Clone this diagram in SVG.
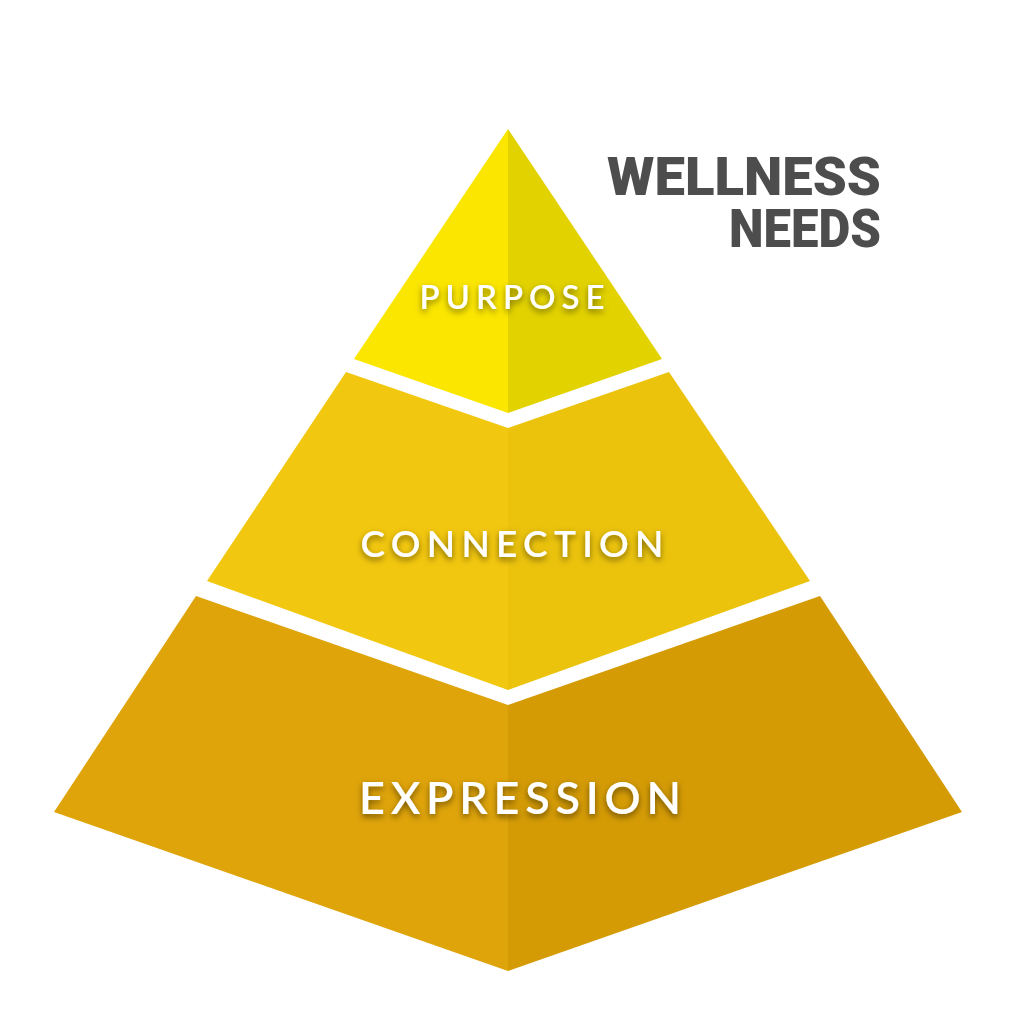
<svg xmlns="http://www.w3.org/2000/svg" width="1024" height="1024" viewBox="0 0 1024 1024">
<defs>
<filter id="sh" x="-20%" y="-50%" width="140%" height="200%">
<feDropShadow dx="0" dy="3" stdDeviation="3" flood-color="#000" flood-opacity="0.5"/>
</filter>
</defs>
<style>
.lbl{font-family:Lato,"Open Sans","Liberation Sans",sans-serif;fill:#fff;font-weight:600;text-anchor:middle;filter:url(#sh)}
.ttl{font-family:Roboto,"Liberation Sans",sans-serif;font-weight:900;fill:#4d4d4d;text-anchor:end}
</style>
<rect width="1024" height="1024" fill="#fff"/>
<g id="tier-purpose">
<polygon points="508,129 354,359 508,413" fill="#fbe600"/>
<polygon points="508,129 662,359 508,413" fill="#e2d200"/>
<text class="lbl" x="512" y="309" font-size="33" textLength="185" lengthAdjust="spacing">PURPOSE</text>
</g>
<g id="tier-connection">
<polygon points="346,372 508,428 508,690 207,581" fill="#f2c70f"/>
<polygon points="669,372 508,428 508,690 810,581" fill="#ebc30d"/>
<text class="lbl" x="512" y="557" font-size="37" textLength="303" lengthAdjust="spacing">CONNECTION</text>
</g>
<g id="tier-expression">
<polygon points="196,596 508,705 508,971 54,812" fill="#dfa40a"/>
<polygon points="820,596 508,705 508,971 962,812" fill="#d49b05"/>
<text class="lbl" x="520" y="814" font-size="45" textLength="322" lengthAdjust="spacing">EXPRESSION</text>
</g>
<g id="title">
<text class="ttl" x="881" y="195" font-size="53" textLength="274" lengthAdjust="spacingAndGlyphs">WELLNESS</text>
<text class="ttl" x="881" y="247" font-size="53" textLength="152" lengthAdjust="spacingAndGlyphs">NEEDS</text>
</g>
<g id="connectors"/>
</svg>
